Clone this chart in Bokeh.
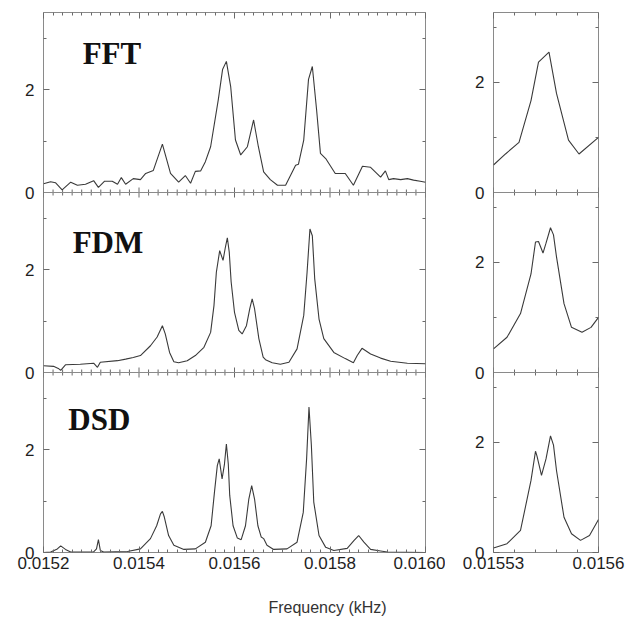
import math
from bokeh.plotting import figure
from bokeh.models import (Range1d, LinearAxis, FixedTicker, CustomJSTickFormatter,
                          Span, Label)
from bokeh.layouts import row, column
from bokeh.embed import file_html
from bokeh.resources import INLINE

# ---------------- data (frequency in kHz, amplitude) ----------------
fft_f = [0.015200, 0.015215, 0.015225, 0.015239, 0.015257, 0.015271, 0.015288, 0.015305,
         0.015315, 0.015328, 0.015344, 0.015355, 0.015363, 0.015372, 0.015388, 0.015403,
         0.015414, 0.015430, 0.015449, 0.015466, 0.015483, 0.015497, 0.015508, 0.015518,
         0.015529, 0.015539, 0.015550, 0.015566, 0.015575, 0.015583, 0.015592, 0.015602,
         0.015613, 0.015627, 0.015640, 0.015650, 0.015661, 0.015675, 0.015690, 0.015707,
         0.015728, 0.015734, 0.015745, 0.015755, 0.015763, 0.015772, 0.015780, 0.015791,
         0.015811, 0.015832, 0.015849, 0.015868, 0.015885, 0.015906, 0.015916, 0.015923,
         0.015933, 0.015948, 0.015962, 0.015975, 0.015989, 0.016000]
fft_a = [0.17, 0.21, 0.19, 0.05, 0.20, 0.14, 0.16, 0.23,
         0.10, 0.22, 0.22, 0.16, 0.29, 0.16, 0.27, 0.25,
         0.37, 0.43, 0.94, 0.37, 0.20, 0.33, 0.18, 0.41,
         0.42, 0.60, 0.89, 1.80, 2.39, 2.55, 2.06, 1.02,
         0.73, 0.89, 1.41, 0.89, 0.40, 0.25, 0.14, 0.14,
         0.53, 0.55, 1.02, 2.20, 2.45, 1.60, 0.76, 0.66,
         0.37, 0.37, 0.14, 0.51, 0.49, 0.30, 0.42, 0.25,
         0.27, 0.25, 0.27, 0.24, 0.22, 0.20]

fdm_f = [0.015200, 0.015221, 0.015231, 0.015236, 0.015246, 0.015277, 0.015305, 0.015313,
         0.015319, 0.015355, 0.015372, 0.015388, 0.015403, 0.015424, 0.015438, 0.015449,
         0.015455, 0.015464, 0.015473, 0.015483, 0.015501, 0.015518, 0.015536, 0.015550,
         0.015557, 0.015562, 0.015569, 0.015576, 0.015581, 0.015585, 0.015589, 0.015593,
         0.015600, 0.015609, 0.015616, 0.015625, 0.015632, 0.015637, 0.015642, 0.015651,
         0.015660, 0.015665, 0.015679, 0.015696, 0.015714, 0.015731, 0.015745, 0.015752,
         0.015758, 0.015763, 0.015768, 0.015777, 0.015787, 0.015808, 0.015832, 0.015849,
         0.015857, 0.015867, 0.015885, 0.015906, 0.015927, 0.015962, 0.016000]
fdm_a = [0.13, 0.12, 0.08, 0.04, 0.15, 0.16, 0.18, 0.10,
         0.20, 0.23, 0.26, 0.29, 0.33, 0.52, 0.69, 0.91,
         0.75, 0.39, 0.21, 0.19, 0.23, 0.33, 0.49, 0.78,
         1.30, 1.95, 2.37, 2.18, 2.44, 2.62, 2.34, 1.76,
         1.17, 0.82, 0.75, 0.91, 1.24, 1.43, 1.24, 0.66,
         0.30, 0.25, 0.19, 0.16, 0.20, 0.46, 1.11, 1.95,
         2.79, 2.66, 1.82, 1.04, 0.66, 0.39, 0.27, 0.19,
         0.33, 0.47, 0.36, 0.28, 0.22, 0.18, 0.17]

dsd_f = [0.015200, 0.015215, 0.015229, 0.015236, 0.015246, 0.015257, 0.015305, 0.015311,
         0.015315, 0.015319, 0.015326, 0.015376, 0.015403, 0.015424, 0.015437, 0.015445,
         0.015449, 0.015453, 0.015462, 0.015473, 0.015494, 0.015518, 0.015539, 0.015551,
         0.015558, 0.015564, 0.015568, 0.015574, 0.015579, 0.015583, 0.015587, 0.015590,
         0.015597, 0.015606, 0.015614, 0.015623, 0.015630, 0.015636, 0.015642, 0.015649,
         0.015656, 0.015661, 0.015668, 0.015682, 0.015710, 0.015731, 0.015744, 0.015751,
         0.015756, 0.015761, 0.015766, 0.015777, 0.015791, 0.015808, 0.015836, 0.015850,
         0.015860, 0.015871, 0.015885, 0.015906, 0.015920, 0.016000]
dsd_a = [0.00, 0.01, 0.07, 0.13, 0.06, 0.01, 0.01, 0.07,
         0.25, 0.04, 0.01, 0.02, 0.07, 0.27, 0.52, 0.75,
         0.80, 0.69, 0.33, 0.14, 0.06, 0.07, 0.20, 0.52,
         1.17, 1.69, 1.82, 1.43, 1.72, 2.11, 1.72, 1.11,
         0.52, 0.28, 0.25, 0.52, 1.04, 1.30, 1.04, 0.52,
         0.30, 0.27, 0.14, 0.06, 0.07, 0.20, 0.78, 1.82,
         2.83, 2.08, 0.98, 0.33, 0.10, 0.04, 0.08, 0.23,
         0.33, 0.20, 0.06, 0.03, 0.01, 0.00]

# zoomed panels (right column)
fft_zf = [0.015530, 0.015538, 0.015547, 0.015555, 0.015560, 0.015567, 0.015572,
          0.015580, 0.015587, 0.015600]
fft_za = [0.50, 0.70, 0.91, 1.67, 2.37, 2.55, 1.80, 0.95, 0.70, 1.00]

fdm_zf = [0.015530, 0.015539, 0.015548, 0.015555, 0.015558, 0.015560, 0.015563, 0.015565,
          0.015568, 0.015570, 0.015572, 0.015577, 0.015582, 0.015589, 0.015595, 0.015600]
fdm_za = [0.43, 0.64, 1.07, 1.79, 2.37, 2.38, 2.17, 2.35, 2.63, 2.50, 2.10, 1.25, 0.82,
          0.73, 0.82, 1.00]

dsd_zf = [0.015530, 0.015539, 0.015548, 0.015555, 0.015558, 0.015559, 0.015562, 0.015565,
          0.015568, 0.015570, 0.015572, 0.015577, 0.015582, 0.015588, 0.015594, 0.015600]
dsd_za = [0.08, 0.16, 0.40, 1.31, 1.84, 1.75, 1.40, 1.70, 2.12, 1.95, 1.49, 0.64, 0.34,
          0.22, 0.31, 0.60]

method_names = ["FFT", "FDM", "DSD"]
main_ticks = [0.0152, 0.0154, 0.0156, 0.0158, 0.0160]
zoom_ticks = [0.01553, 0.0156]
y_labelled = [0, 2]
y_minor = [1, 3]
x_title = "Frequency (kHz)"

# ---------------- styling ----------------
LINE = "#3a3a3a"
FRAME = "#8a8a8a"
TICK = "#6a6a6a"
TXT = "#1e1e1e"
SANS = "Liberation Sans"
SERIF = "Liberation Serif"
MAIN_H = 580


def build(width, bl, br, x_start, x_end, H, xticks, xminor, xfmt, series, labels):
    p = figure(width=width, height=MAIN_H, x_range=Range1d(x_start, x_end),
               y_range=Range1d(0, 3 * H), output_backend="svg",
               toolbar_location=None, min_border_left=bl, min_border_right=br,
               min_border_top=12, min_border_bottom=MAIN_H - 552)
    p.background_fill_color = "white"
    p.border_fill_color = "white"
    p.outline_line_color = FRAME
    p.outline_line_width = 1
    p.xgrid.visible = False
    p.ygrid.visible = False
    p.xaxis.visible = False
    p.yaxis.visible = False

    # one extra range per stacked panel, so each series keeps its own 0..H scale
    names = ["top", "mid", "bot"]
    for k, nm in enumerate(names):
        off = 2 - k
        p.extra_y_ranges[nm] = Range1d(-off * H, (3 - off) * H)

    yt = [k * H + t for k in range(3) for t in y_labelled]
    ym = [k * H + t for k in range(3) for t in y_minor]
    yfmt = CustomJSTickFormatter(args=dict(h=H), code="""
        const r = tick - h * Math.floor(tick / h + 1e-6);
        return String(Math.round(r));""")

    def style(ax, show):
        ax.axis_line_color = None
        ax.major_tick_line_color = TICK
        ax.minor_tick_line_color = TICK
        ax.major_tick_in = 6
        ax.major_tick_out = 0
        ax.minor_tick_in = 3
        ax.minor_tick_out = 0
        if show:
            ax.major_label_text_font = SANS
            ax.major_label_text_font_size = "17px"
            ax.major_label_text_color = TXT
        else:
            ax.major_label_text_font_size = "0px"
            ax.major_label_standoff = 0

    la = LinearAxis(ticker=FixedTicker(ticks=yt, minor_ticks=ym), formatter=yfmt)
    style(la, True)
    la.major_label_standoff = 9
    p.add_layout(la, "left")
    ra = LinearAxis(ticker=FixedTicker(ticks=yt, minor_ticks=ym),
                    formatter=CustomJSTickFormatter(code="return '';"))
    style(ra, False)
    p.add_layout(ra, "right")

    ba = LinearAxis(ticker=FixedTicker(ticks=xticks, minor_ticks=xminor), formatter=xfmt)
    style(ba, True)
    ba.major_label_standoff = 4
    p.add_layout(ba, "below")
    ta = LinearAxis(ticker=FixedTicker(ticks=xticks, minor_ticks=xminor),
                    formatter=CustomJSTickFormatter(code="return '';"))
    style(ta, False)
    p.add_layout(ta, "above")

    # panel separators with tick marks on both sides
    for k in (1, 2):
        p.add_layout(Span(location=k * H, dimension="width", line_color=FRAME,
                          line_width=1))
        p.scatter(x=xticks, y=[k * H] * len(xticks), marker="dash", angle=math.pi / 2,
                  size=10, line_color=TICK, line_width=1)
        p.scatter(x=xminor, y=[k * H] * len(xminor), marker="dash", angle=math.pi / 2,
                  size=6, line_color=TICK, line_width=1)

    for nm, (fx, ay) in zip(names, series):
        p.line(fx, ay, y_range_name=nm, line_color=LINE, line_width=1.1)

    for nm, lab in zip(names, labels):
        if lab is not None:
            text, lx, ly = lab
            p.add_layout(Label(x=lx, y=ly, y_range_name=nm, text=text,
                               text_font=SERIF, text_font_style="bold",
                               text_font_size="31px", text_color="#111111",
                               text_baseline="alphabetic"))
    return p


main_minor = [0.0152 + 0.00002 * i for i in range(41) if i % 10 != 0]
zoom_minor = [0.01553 + 0.000014 * i for i in range(1, 5)]

left = build(445, 43, 20, 0.0152, 0.0160, 3.5, main_ticks, main_minor,
             CustomJSTickFormatter(code="return tick.toFixed(4);"),
             [(fft_f, fft_a), (fdm_f, fdm_a), (dsd_f, dsd_a)],
             [(method_names[0], 0.015282, 2.70),
              (method_names[1], 0.015261, 2.53),
              (method_names[2], 0.015252, 2.59)])

right = build(183, 48, 30, 0.01553, 0.0156, 3.27, zoom_ticks, zoom_minor,
              CustomJSTickFormatter(code="return String(Number(tick.toPrecision(4)));"),
              [(fft_zf, fft_za), (fdm_zf, fdm_za), (dsd_zf, dsd_za)],
              [None, None, None])

# strip below the panels that carries the shared x-axis title
foot = figure(width=628, height=618 - MAIN_H, x_range=Range1d(0, 1), y_range=Range1d(0, 1),
              output_backend="svg", toolbar_location=None, x_axis_location=None,
              y_axis_location=None, min_border=0)
foot.outline_line_color = None
foot.xgrid.visible = False
foot.ygrid.visible = False
foot.background_fill_color = "white"
foot.border_fill_color = "white"
foot.add_layout(Label(x=327, y=11, x_units="screen", y_units="screen", text=x_title,
                      text_font=SANS, text_font_size="16px", text_color="#333333",
                      text_align="center", text_baseline="middle"))

layout = column(row(left, right), foot)
open("out.html", "w").write(file_html(layout, INLINE))
